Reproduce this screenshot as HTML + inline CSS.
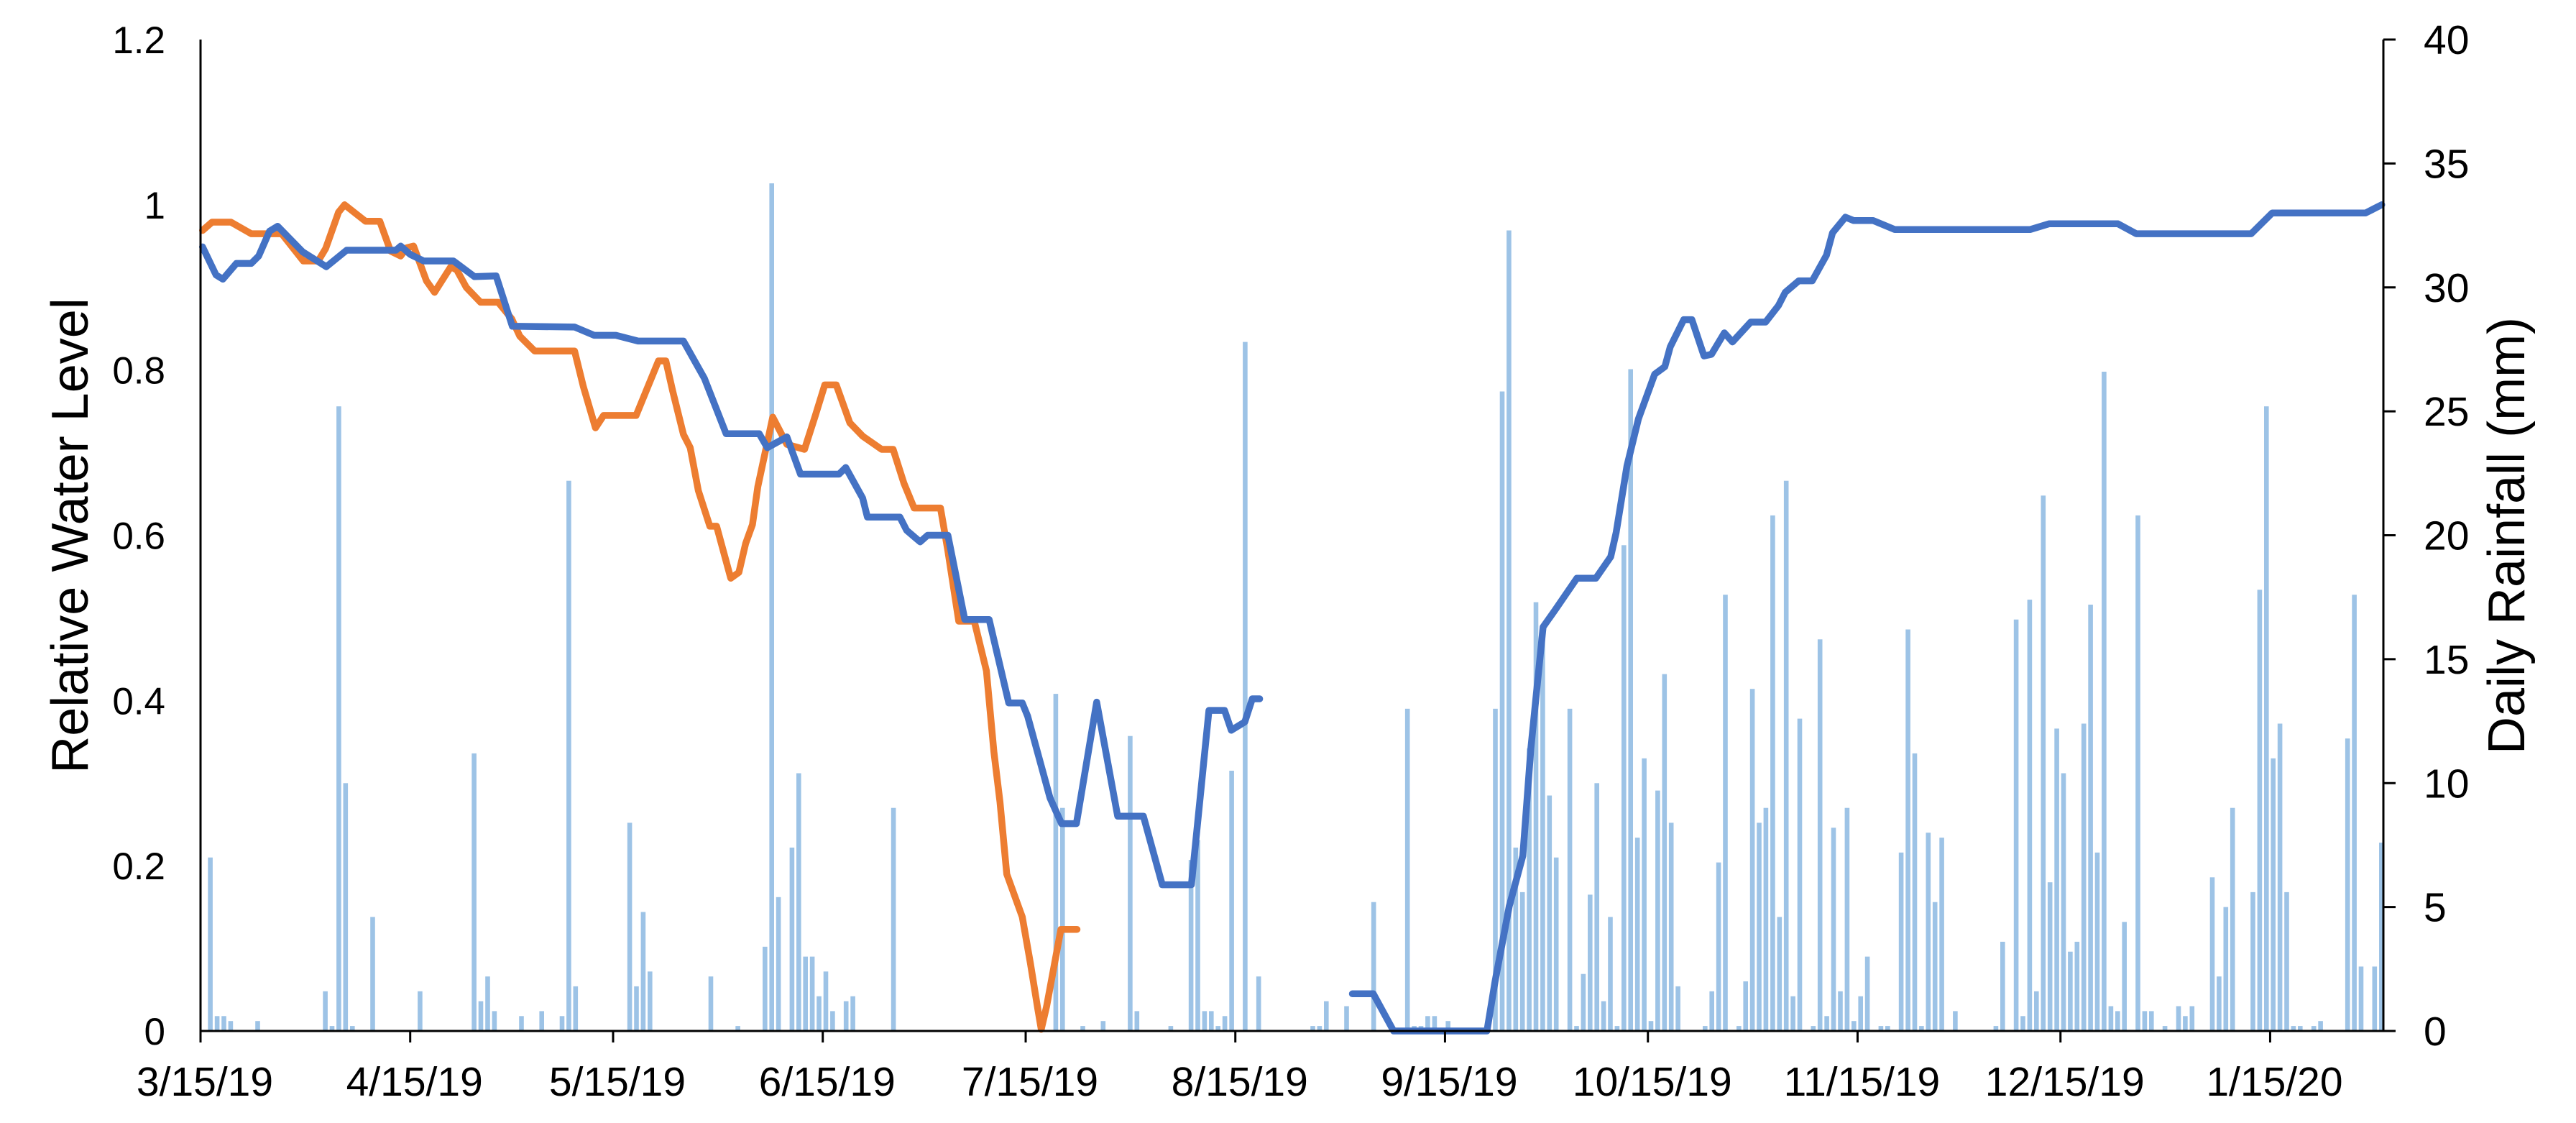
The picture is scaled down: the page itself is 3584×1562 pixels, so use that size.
<!DOCTYPE html>
<html><head><meta charset="utf-8"><style>
html,body{margin:0;padding:0;background:#fff;}
svg{display:block;font-family:"Liberation Sans",Arial,sans-serif;}
</style></head><body>
<svg id="chart" width="3584" height="1562" viewBox="0 0 3584 1562" xmlns="http://www.w3.org/2000/svg">
<rect x="0" y="0" width="3584" height="1562" fill="#fff"/>
<g id="bars"></g>
<g id="lines"></g>
<g id="axes"></g>
<text transform="translate(122,745) rotate(-90)" text-anchor="middle" font-size="72" fill="#000">Relative Water Level</text>
<text transform="translate(3512,745) rotate(-90)" text-anchor="middle" font-size="72" fill="#000">Daily Rainfall (mm)</text>
</svg>
<script>
const xTickDays = [0,31,61,92,122,153,184,214,245,275,306];
const xTickLabels = ["3/15/19","4/15/19","5/15/19","6/15/19","7/15/19","8/15/19","9/15/19","10/15/19","11/15/19","12/15/19","1/15/20"];
const leftTicks = [0,0.2,0.4,0.6,0.8,1,1.2];
const leftTickLabels = ["0","0.2","0.4","0.6","0.8","1","1.2"];
const rightTicks = [0,5,10,15,20,25,30,35,40];

const rainDays = [1,2,3,4,8,18,19,20,21,22,25,32,40,41,42,43,47,50,53,54,55,63,64,65,66,75,79,83,84,85,87,88,89,90,91,92,93,95,96,102,126,127,130,133,137,138,143,146,147,148,149,150,151,152,154,156,164,165,166,169,173,178,179,180,181,182,184,191,192,193,194,195,196,197,198,199,200,202,203,204,205,206,207,208,209,210,211,212,213,214,215,216,217,218,222,223,224,225,227,228,229,230,231,232,233,234,235,236,238,239,240,241,242,243,244,245,246,248,249,251,252,253,254,255,256,257,259,265,266,268,269,270,271,272,273,274,275,276,277,278,279,280,281,282,283,284,286,287,288,290,292,293,294,297,298,299,300,303,304,305,306,307,308,309,310,312,313,317,318,319,321,322];
const rainMM = [7,0.6,0.6,0.4,0.4,1.6,0.2,25.2,10,0.2,4.6,1.6,11.2,1.2,2.2,0.8,0.6,0.8,0.6,22.2,1.8,8.4,1.8,4.8,2.4,2.2,0.2,3.4,34.2,5.4,7.4,10.4,3,3,1.4,2.4,0.8,1.2,1.4,9,13.6,9,0.2,0.4,11.9,0.8,0.2,6.9,7.7,0.8,0.8,0.2,0.6,10.5,27.8,2.2,0.2,0.2,1.2,1,5.2,13,0.2,0.2,0.6,0.6,0.4,13,25.8,32.3,7.4,5.6,11.4,17.3,16,9.5,7,13,0.2,2.3,5.5,10,1.2,4.6,0.2,19.6,26.7,7.8,11,0.4,9.7,14.4,8.4,1.8,0.2,1.6,6.8,17.6,0.2,2,13.8,8.4,9,20.8,4.6,22.2,1.4,12.6,0.2,15.8,0.6,8.2,1.6,9,0.4,1.4,3,0.2,0.2,7.2,16.2,11.2,0.2,8,5.2,7.8,0.8,0.2,3.6,16.6,0.6,17.4,1.6,21.6,6,12.2,10.4,3.2,3.6,12.4,17.2,7.2,26.6,1,0.8,4.4,20.8,0.8,0.8,0.2,1,0.6,1,6.2,2.2,5,9,5.6,17.8,25.2,11,12.4,5.6,0.2,0.2,0.2,0.4,11.8,17.6,2.6,2.6,7.6];

const blueDays1 = [0.3,2.3,3.3,5.3,7.5,8.6,10.2,11.4,15.1,18.6,21.6,28.9,29.6,31,33,37.4,40.5,43.7,46.1,55.3,58.2,61.4,64.7,71.4,74.5,77.7,82.6,83.8,86.7,88.7,94.4,95.4,97.9,98.6,103.4,104.4,106.4,107.5,110.5,113,116.6,119.5,121.5,122.3,125.6,127.3,129.5,132.5,135.6,139.4,142.2,146.5,149.1,151.4,152.4,154.4,155.5,156.6];
const blueVals1 = [0.949,0.915,0.91,0.929,0.929,0.938,0.968,0.974,0.943,0.925,0.945,0.945,0.95,0.94,0.932,0.932,0.913,0.914,0.853,0.852,0.842,0.842,0.835,0.835,0.79,0.723,0.723,0.706,0.719,0.674,0.674,0.682,0.645,0.622,0.622,0.606,0.592,0.6,0.6,0.498,0.498,0.397,0.397,0.381,0.282,0.251,0.251,0.398,0.26,0.26,0.177,0.177,0.388,0.388,0.364,0.374,0.402,0.402];
const blueDays2 = [170.3,173.4,176.4,190.2,191.4,193.5,195.5,196.7,198.5,200.4,203.5,206.3,208.5,209.3,210.9,212.6,215,216.5,217.3,219.3,220.5,222.3,223.4,225.3,226.5,229.2,231.4,233.3,234.3,236.3,238.3,240.4,241.3,243.2,244.4,247.3,250.5,270.5,273.3,283.5,286.2,303.2,306.3,320.1,322.5];
const blueVals2 = [0.045,0.045,0,0,0.06,0.151,0.212,0.342,0.489,0.511,0.548,0.548,0.574,0.603,0.684,0.741,0.795,0.804,0.828,0.861,0.861,0.817,0.819,0.845,0.834,0.858,0.858,0.878,0.894,0.908,0.908,0.939,0.966,0.985,0.981,0.981,0.97,0.97,0.977,0.977,0.965,0.965,0.99,0.99,1.0];
const orangeDays = [0.3,1.7,4.5,7.5,12,15.2,17.4,18.5,20.4,21.3,24.4,26.5,28.1,29.6,30.5,31.5,33.4,34.6,37,37.9,39.3,41.4,44,46,47.2,49.4,55.3,56.6,58.4,59.6,64.4,66.1,67.7,68.8,69.8,71.4,72.4,73.6,75.3,76.3,78.4,79.6,80.6,81.6,82.4,84.6,86.7,89.3,90.9,92.3,94,96,97.9,100.7,102.4,104,105.5,109.4,110.5,112.1,114.4,116.2,117.3,118.2,119.2,121.5,122.7,123.8,124.3,125.1,127.2,129.6];
const orangeVals = [0.969,0.979,0.979,0.965,0.965,0.932,0.932,0.947,0.991,1.0,0.98,0.98,0.944,0.938,0.948,0.95,0.908,0.894,0.925,0.921,0.9,0.882,0.882,0.862,0.841,0.823,0.823,0.78,0.73,0.745,0.745,0.779,0.811,0.811,0.775,0.722,0.706,0.654,0.611,0.611,0.548,0.555,0.59,0.613,0.659,0.743,0.71,0.704,0.745,0.782,0.782,0.736,0.72,0.704,0.704,0.663,0.633,0.633,0.581,0.496,0.496,0.436,0.338,0.277,0.19,0.138,0.082,0.026,0.002,0.03,0.123,0.123];

const X0 = 279, XR = 3316, PXDAY = 9.41, YB = 1434, YT = 55;
function xScale(d){ return X0 + d*PXDAY; }
function yLeft(v){ return YB - v/1.2*(YB-YT); }
function yRight(mm){ return YB - mm/40*(YB-YT); }
const NS = "http://www.w3.org/2000/svg";
function mk(tag, attrs, parent){ const e=document.createElementNS(NS,tag); for(const k in attrs) e.setAttribute(k,attrs[k]); parent.appendChild(e); return e; }

const gb = document.getElementById('bars');
rainDays.forEach((d,i)=>{
  const top = yRight(rainMM[i]);
  const r = mk('rect',{x:(xScale(d+0.45)-3.3).toFixed(1), y:top.toFixed(1), width:6.6, height:(YB-top).toFixed(1), fill:'#9DC3E6'}, gb);
  
  
});

const gl = document.getElementById('lines');
function line(days, vals, color, name){
  const pts = days.map((d,i)=>xScale(d).toFixed(1)+','+yLeft(vals[i]).toFixed(1)).join(' ');
  const p = mk('polyline',{points:pts, fill:'none', stroke:color, 'stroke-width':9.5, 'stroke-linejoin':'round', 'stroke-linecap':'round'}, gl);
  
  
}
line(orangeDays, orangeVals, '#ED7D31', 'orange-water-level-line');
line(blueDays1, blueVals1, '#4472C4', 'blue-water-level-line-part1');
line(blueDays2, blueVals2, '#4472C4', 'blue-water-level-line-part2');

const ga = document.getElementById('axes');
let a;
a = mk('line',{x1:X0,y1:YT,x2:X0,y2:YB,stroke:'#000','stroke-width':3},ga);


a = mk('line',{x1:XR,y1:YT,x2:XR,y2:YB,stroke:'#000','stroke-width':3},ga);


a = mk('line',{x1:X0,y1:YB,x2:XR+17,y2:YB,stroke:'#000','stroke-width':3},ga);



xTickDays.forEach((d,i)=>{
  const x = xScale(d);
  const t = mk('line',{x1:x,y1:YB,x2:x,y2:YB+16,stroke:'#000','stroke-width':3},ga);
  
  
  const l = mk('text',{x:x+6,y:1524,'text-anchor':'middle','font-size':57,fill:'#000'},ga);
  l.textContent = xTickLabels[i];
  
  
});
leftTicks.forEach((v,i)=>{
  const l = mk('text',{x:230,y:(yLeft(v)+19).toFixed(1),'text-anchor':'end','font-size':53,fill:'#000'},ga);
  l.textContent = leftTickLabels[i];
  
  
});
rightTicks.forEach((v)=>{
  const y = yRight(v);
  const t = mk('line',{x1:XR,y1:y,x2:XR+17,y2:y,stroke:'#000','stroke-width':3},ga);
  
  
  const l = mk('text',{x:3372,y:(y+20).toFixed(1),'text-anchor':'start','font-size':57,fill:'#000'},ga);
  l.textContent = String(v);
  
  
});
</script>
</body></html>
